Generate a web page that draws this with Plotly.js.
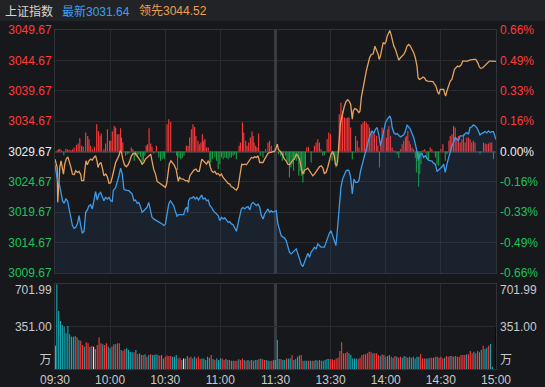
<!DOCTYPE html>
<html><head><meta charset="utf-8">
<script src="https://cdn.plot.ly/plotly-3.0.1.min.js"></script>
<style>html,body{margin:0;padding:0;background:#17181c;overflow:hidden}#chart{width:545px;height:387px}</style>
</head><body><div id="chart"></div>
<script>
// ---------- data ----------
const indexName = '上证指数';
const prevClose = 3029.67;
const timeTickVals = [0, 30, 60, 90, 120, 150, 180, 210, 240];
const timeTickText = ['09:30', '10:00', '10:30', '11:00', '11:30', '13:30', '14:00', '14:30', '15:00'];
const priceTicks = [3009.67, 3014.67, 3019.67, 3024.67, 3029.67, 3034.67, 3039.67, 3044.67, 3049.67];
const pctTicks = ['-0.66%', '-0.49%', '-0.33%', '-0.16%', '0.00%', '0.16%', '0.33%', '0.49%', '0.66%'];
const volMax = 701.99;
const volTickText = ['万', '351.00', '701.99'];

// 上证指数 (blue) : minute index, price
const priceMin = [0,1.4,2.3,3.2,4.1,5,5.9,6.8,7.7,8.6,9.5,10.4,11.3,12.2,13.1,14,14.9,15.8,16.7,17.6,18.5,19.4,20.3,21.2,22.1,23,23.9,24.8,25.7,26.6,27.5,28.5,29.4,30.3,31.2,31.7,33,33.9,34.8,35.7,36.6,37.5,38.4,40.2,42,42.9,43.8,44.7,45.6,46.5,47.4,48.3,49.2,50.1,51,51.9,52.8,53.7,54.7,56.5,57.4,58.3,59.2,60.1,61,61.9,62.8,63.7,64.6,65.5,66.4,67.3,69.1,70,70.9,71.8,72.2,72.7,73.6,74.5,75.4,76.3,77.2,78.1,79,
79.8,80.7,81.6,82.5,83.4,84.3,85.2,86.1,87,87.9,88.8,89.7,90.6,91.5,92.4,93.3,94.2,95.1,96,96.9,97.8,98.7,99.6,100.5,101.4,102.3,103.2,104.2,105.1,106,106.9,107.8,108.7,109.6,110.5,111.4,112.3,113.2,114.1,115,115.9,116.8,117.7,118.6,119.5,120.4,121.3,122.2,123.1,124,124.9,125.8,126.7,127.6,128.5,129.4,130.3,131.3,132.2,133.1,134,134.9,135.8,136.7,137.6,138.5,139.4,140.3,141.2,142.1,143,143.9,144.8,146.6,147.5,148.4,149.3,150.2,151.1,152,152.9,153.8,154.7,155.6,156.5,157.5,158.4,159.3,
160,160.9,161.8,162.7,163.6,164.5,165.4,166.3,167.2,168.1,169,169.9,170.8,171.7,172.6,173.5,174.4,175.3,176.2,177.1,178,179,179.9,180.8,181.7,182.2,182.9,183.5,184.4,185.3,186.2,187.1,188,188.9,189.8,190.7,191.6,192.5,193.4,194.3,195.2,196.1,197,197.9,198.8,199.7,200.6,201.5,202.4,203.3,204.2,205.1,206.1,207,207.9,208.8,209.7,210.6,211.5,212.4,213.3,214.2,215.1,216,216.9,217.8,218.7,219.6,220.5,221.4,222.3,223.2,224.1,225,225.9,226.8,227.7,228.6,229.5,230.4,231.3,232.2,233.2,234.1,235,235.9,236.8,237.7,238.6,240];
const priceVal = [3027.48,3024.86,3024.42,3023.22,3021.57,3021.14,3021.85,3021.57,3020.21,3019.11,3017.47,3017.03,3017.20,3017.75,3019.11,3017.47,3016.21,3016.54,3019.66,3020.04,3020.75,3020.92,3020.21,3021.57,3023.05,3021.68,3022.67,3022.94,3022.12,3021.57,3022.12,3021.85,3022.12,3021.57,3021.46,3023.22,3023.76,3024.58,3025.68,3026.93,3025.95,3023.49,3023.32,3023.22,3022.67,3021.57,3021.68,3021.14,3021.30,3020.59,3019.66,3019.93,3020.21,3020.48,3021.30,3020.04,3018.84,3018.57,3018.40,3018.18,3018.02,3017.75,3017.47,3017.75,3019.39,3021.03,3021.57,3021.14,3020.75,3019.82,3019.00,3019.28,3019.28,3019.28,3020.21,3020.48,3019.66,3021.57,3022.01,3022.01,3022.23,3021.85,3022.12,3021.68,3022.12,
3022.50,3021.85,3022.01,3021.57,3021.68,3020.75,3020.48,3019.93,3019.66,3019.39,3019.11,3018.29,3018.84,3018.57,3018.73,3018.40,3018.02,3018.13,3017.75,3017.64,3017.20,3016.54,3017.75,3019.11,3020.21,3020.48,3020.21,3020.48,3020.59,3020.04,3021.03,3021.30,3021.03,3020.75,3021.03,3020.48,3019.11,3018.57,3019.39,3019.93,3020.21,3019.66,3019.93,3019.66,3019.77,3019.93,3017.75,3016.65,3015.83,3015.56,3015.45,3015.01,3014.19,3013.10,3012.82,3013.10,3013.48,3013.64,3012.82,3011.73,3011.07,3010.74,3011.45,3012.27,3012.93,3012.27,3013.10,3013.48,3013.92,3013.64,3014.46,3014.19,3013.92,3013.92,3014.74,3015.56,3016.21,3016.65,3015.83,3014.74,3014.19,3017.20,3021.03,3023.76,3025.13,3025.95,3026.50,3026.61,
3026.50,3025.40,3022.67,3025.13,3024.58,3024.58,3024.86,3026.50,3027.59,3028.69,3029.78,3030.87,3031.69,3032.51,3033.06,3032.62,3033.33,3033.61,3032.51,3030.60,3031.97,3033.61,3034.43,3034.98,3035.25,3035.52,3034.98,3033.61,3032.79,3032.51,3032.62,3032.41,3032.08,3032.24,3032.41,3033.06,3033.99,3033.72,3033.33,3032.62,3031.97,3030.87,3029.51,3028.41,3029.23,3029.34,3028.69,3028.96,3028.58,3028.25,3028.14,3028.14,3027.70,3027.59,3026.39,3026.61,3026.77,3027.15,3027.59,3026.22,3027.59,3028.69,3029.78,3030.60,3031.15,3031.97,3031.69,3031.53,3032.24,3032.24,3032.24,3032.62,3032.79,3032.51,3033.61,3033.72,3034.05,3033.88,3033.61,3033.06,3032.41,3032.62,3032.79,3032.95,3032.73,3033.06,3032.79,3032.95,3032.95,3031.64];

// 领先指数 (orange)
const leadMin = [0,1.2,1.5,2.1,2.6,3.3,4.1,4.6,5.3,6.1,7,7.7,8.6,9.5,10.4,11.3,12.2,13.1,14,14.5,15.6,16.4,16.9,17.6,18.5,19.4,20.3,21.2,22.1,22.9,23.4,24.1,25,25.7,26.6,27.6,28.5,29.4,30.3,31.2,32.1,33,33.9,34.8,35.5,36.2,36.9,37.8,38.8,39.8,40.7,41.6,42.5,43.8,44.7,45.6,46.5,47.4,48.3,49.2,50.3,51.4,52.1,52.8,53.7,54.7,55.6,56.8,57.9,59.2,60.1,60.8,61.5,62.2,63.1,64,64.9,65.9,66.6,67.1,67.8,68.7,69.8,70.9,72,72.7,73.4,74.5,75.6,76.7,77.6,78.5,79.2,79.9,
80.7,81.6,82.5,83.4,83.9,84.6,85.2,86.1,87,87.9,88.8,89.7,90.6,91.5,92.4,93.3,94.2,95.1,96,96.9,97.8,98.7,99.6,100.2,100.9,101.6,102.3,103.3,104.2,105.1,106,106.9,107.8,108.7,109.6,110.5,111.4,112.3,113.2,114.1,115,115.9,116.8,117.7,118.6,119.5,120.4,121,121.5,122.2,123.1,124,124.9,125.8,126.7,127.6,128.5,129.4,130.3,131.3,132.2,133.1,134,134.9,135.8,136.7,137.6,138.5,139.4,140.3,141.2,142.1,143,143.9,144.8,145.7,146.6,147.5,148.4,149.3,150.2,151.1,152,152.6,153.3,153.8,154.4,154.8,155.3,155.8,156.5,157.5,158.4,159.3,
160,160.9,161.8,162.3,163.1,164.1,165.4,166,166.7,167.6,168.5,169.4,170.3,171.2,172.1,173.2,174.1,175,175.9,176.4,177.1,178,178.6,179.5,180.2,180.8,181.5,182.2,182.9,183.7,184.4,185.3,186.2,187.1,188,188.9,189.8,190.7,191.6,192.5,193.4,194.3,195.2,196.1,197,197.6,198.3,199.2,200.3,201,201.9,202.8,204.2,205.7,206.4,207.3,208.2,208.9,209.7,210.6,211.5,212.2,212.6,213.3,214.2,215.1,216,216.5,217.4,218.2,219.1,220,221,221.9,223.2,224.5,225.6,226.8,228.1,229,230.1,231,231.7,232.8,233.7,234.6,235.5,236.4,237.3,238.6,240];
const leadVal = [3028.41,3027.04,3021.30,3024.31,3027.04,3028.14,3027.04,3025.95,3027.59,3028.41,3028.79,3028.14,3027.15,3025.95,3025.84,3026.50,3026.22,3026.39,3025.84,3024.86,3024.86,3027.04,3028.14,3027.48,3028.14,3028.41,3028.25,3028.69,3028.96,3028.03,3027.04,3027.59,3027.86,3027.04,3025.68,3025.95,3025.51,3024.42,3024.53,3025.51,3026.77,3027.86,3028.41,3028.96,3029.78,3029.51,3028.41,3027.48,3027.15,3027.48,3028.14,3028.96,3029.34,3029.34,3028.96,3028.58,3028.14,3027.59,3027.86,3028.41,3028.79,3029.12,3029.23,3028.14,3026.77,3025.95,3024.75,3024.47,3024.20,3023.87,3023.76,3024.42,3026.22,3027.59,3028.14,3027.76,3027.43,3026.77,3025.68,3024.75,3025.40,3025.18,3025.13,3024.86,3024.86,3024.58,3025.68,3026.22,3026.61,3026.77,3026.39,3026.39,3027.59,3028.41,
3028.14,3027.86,3027.59,3028.14,3027.86,3027.04,3026.50,3026.22,3026.39,3025.95,3026.06,3025.68,3025.95,3025.40,3024.97,3024.75,3024.42,3024.31,3023.87,3023.76,3023.49,3023.32,3023.76,3024.86,3026.50,3027.59,3027.48,3027.59,3027.48,3027.86,3028.41,3028.69,3028.58,3028.79,3028.69,3028.96,3027.86,3027.86,3027.86,3028.41,3028.96,3029.34,3029.51,3029.51,3029.67,3029.67,3030.33,3030.87,3030.05,3029.78,3029.51,3028.96,3028.41,3028.14,3027.59,3027.48,3027.86,3028.25,3028.41,3029.23,3028.96,3028.41,3027.04,3025.95,3026.61,3026.77,3026.93,3026.50,3025.95,3025.68,3025.95,3026.39,3026.77,3027.15,3027.32,3027.04,3026.06,3026.22,3027.04,3028.03,3029.23,3029.67,3028.96,3027.59,3027.32,3028.14,3030.87,3033.06,3034.16,3034.98,3036.07,3037.16,3037.88,3038.20,
3037.98,3037.44,3034.98,3036.34,3036.73,3036.62,3036.07,3036.34,3038.53,3040.17,3041.81,3042.91,3044.00,3045.10,3045.64,3045.75,3047.01,3046.46,3045.64,3044.82,3045.37,3046.74,3047.56,3047.39,3047.83,3048.65,3049.20,3049.58,3048.92,3047.83,3047.01,3046.46,3045.64,3044.71,3045.10,3045.37,3045.64,3046.19,3047.01,3047.28,3047.01,3046.46,3045.92,3045.10,3043.73,3041.81,3041.54,3041.65,3041.92,3041.81,3041.38,3041.27,3041.27,3041.16,3040.83,3040.45,3039.52,3039.08,3039.90,3039.90,3039.90,3039.08,3038.80,3039.63,3040.45,3041.27,3041.54,3042.36,3043.18,3043.45,3043.73,3043.62,3043.89,3044.55,3044.55,3044.55,3044.71,3044.82,3044.82,3044.82,3044.27,3043.56,3043.35,3043.45,3043.73,3044.00,3044.27,3044.55,3044.55,3044.55,3044.52];

// red/green bars around the zero line (in index-point units)
const flowMin = [1.2,1.9,2.6,3.5,4.8,5.9,6.8,7.7,8.6,9.5,10.4,11.7,12.6,13.5,14.5,15.4,16.7,17.8,18.5,19.4,20.3,21.4,22.7,23.6,24.5,25.2,26.6,27.5,28.5,29.7,30.4,31.2,32.2,33,33.9,34.8,35.7,36.2,36.9,38.4,39.3,40.2,41.5,42.4,43.1,43.8,44.7,45.6,46.5,47.4,48.1,48.9,49.6,50.3,51.2,52.1,52.8,53.7,55.2,56.5,57.4,58.3,59.2,59.7,61,61.9,63,66.2,66.7,67.5,68.4,69.3,70.2,71.5,72.4,73.3,74.2,75.1,76,76.7,77.8,78.5,79.4,
80.2,80.9,81.6,82.5,83.4,84.3,84.8,85.7,87,87.9,88.8,89.7,90.6,91.5,92.4,93.3,94.2,95.1,96,96.9,97.8,98.7,100.2,100.9,102,102.7,103.8,104.5,105.4,106.3,107.2,107.8,108.3,109.2,109.9,110.8,111.7,113.2,114.6,115.9,116.8,117.7,121.7,122.8,123.7,124.4,125.5,126.2,126.9,127.6,128.4,129.1,129.8,130.5,131.3,132.2,132.7,133.4,134.1,134.9,135.6,136.3,137,137.9,139.4,141.2,142.1,143,143.9,144.8,145.7,146.6,148.1,149,149.9,150.8,152,152.9,154.7,155.6,156.5,157.5,158.4,159.3,
160,160.9,161.8,163.6,164.5,165.4,166.7,167.6,168.5,169.4,170.3,171.2,172.1,173,173.9,175,175.7,176.6,177.3,178,179,180.4,181.1,181.7,182.6,183.5,184.4,185.3,186.2,187.1,188,188.9,189.8,190.7,191.2,192,192.7,193.4,194.3,195.2,196.1,196.7,197.4,197.9,198.5,199.2,200.3,201.2,202.4,203.3,204.2,205.1,207,207.9,208.8,210,211.1,212.4,213.3,214.4,215.1,216,216.9,217.8,218.7,219.6,220.5,221.4,222.3,223.2,224.1,225,225.9,226.8,227.7,228.6,231.3,233.2,234.1,235,235.9,236.8,237.7,238.6];
const flowVal = [0.22,0.33,0.44,0.22,-0.60,0.44,0.33,0.27,0.22,0.33,0.66,1.09,1.31,2.19,0.93,0.77,3.12,2.57,2.02,0.93,0.38,0.77,4.49,3.39,2.57,2.95,0.38,1.31,3.66,1.75,1.75,3.28,4.21,3.94,2.84,2.84,3.83,2.30,1.48,-0.71,-0.44,-0.33,0.66,0.38,-1.53,-0.71,-0.98,-0.44,-0.88,-2.19,-1.53,-0.71,0.93,1.20,3.83,1.31,0.77,-0.33,0.93,-0.98,-1.53,-1.26,-0.98,-1.26,4.49,5.31,4.87,-0.71,-3.06,-0.98,-1.26,-1.09,-0.71,0.93,0.93,2.30,3.66,4.49,4.05,2.57,1.75,1.20,1.48,
2.84,1.75,2.02,0.66,0.66,-2.35,-1.81,-1.26,-0.98,-1.53,-2.90,-2.08,-0.98,-1.26,-0.98,-1.09,-1.26,-0.98,-0.98,-0.71,-0.55,-1.26,0.93,1.48,4.76,3.12,1.75,0.93,1.48,2.30,3.28,2.57,1.48,0.93,0.66,2.95,-0.71,-0.98,0.38,1.48,1.75,0.93,-0.44,-0.71,-1.53,-0.98,-0.71,-1.53,-1.81,-4.27,-2.63,-2.08,-3.17,-0.98,-1.53,-1.26,-3.99,-3.17,-3.99,-5.09,-3.72,-2.63,0.66,0.77,-1.81,0.93,1.48,2.02,1.48,0.38,-0.71,-0.60,2.02,3.12,2.84,-1.53,-1.26,-2.63,6.13,8.04,6.67,5.58,5.47,5.58,
5.58,3.94,-1.26,2.57,1.75,0.66,4.49,4.76,5.03,4.76,4.49,3.94,3.39,2.95,2.84,2.57,0.93,-2.63,0.93,3.94,3.39,2.30,3.66,4.21,2.57,0.66,0.22,-0.16,-0.44,-1.09,0.38,1.20,1.75,2.30,2.57,3.39,1.75,1.20,0.66,0.38,-1.09,-3.45,-1.53,-5.80,-3.72,-2.08,0.22,0.38,-1.26,-1.53,0.66,0.38,-0.98,-2.19,-2.35,0.38,1.20,-1.53,-0.44,1.75,2.57,2.84,4.21,3.94,2.30,2.57,1.48,2.02,2.84,1.48,2.30,2.30,2.02,1.48,1.75,1.48,-0.44,1.48,1.31,1.20,1.31,1.48,1.48,-1.26];

// per-minute volume (万) and direction (r = up, c = down, w = flat)
const volume = [193,702,481,398,365,351,296,356,288,268,268,274,263,240,235,199,185,221,213,185,191,185,166,199,262,213,205,199,213,185,171,185,205,205,213,213,157,149,166,171,157,144,138,138,157,122,130,116,116,122,102,116,122,116,116,122,116,110,
116,88,102,111,108,108,102,102,116,88,94,75,88,88,108,94,102,88,102,88,102,83,88,88,75,102,94,116,83,75,88,75,88,88,75,83,75,75,69,69,69,69,80,75,88,75,69,75,69,75,69,75,75,83,88,80,75,75,69,66,69,75,75,
240,83,83,75,75,88,88,88,116,75,83,102,111,116,69,69,69,69,69,69,69,75,69,75,69,69,75,83,83,80,80,75,88,94,149,221,130,130,144,130,116,88,88,88,83,94,116,122,122,130,144,138,130,130,130,
116,108,122,116,102,108,116,102,94,108,102,94,
102,94,108,102,94,102,94,102,88,102,102,124,88,88,88,88,94,94,94,102,102,94,102,88,94,108,102,108,108,102,108,102,102,116,116,116,122,122,149,130,144,130,149,138,157,193,166,177,193,207,
19,0,351];
const volDir = ('wcccccccccccrcrrcrrcrwcrrrcrrccrcrrrcrrccccrcrccrcrcrcccr' +
  'rccrrrrcccrrcwrcrrccrrrcccccrcrcccrrcrrccrrcrrcrcrcrccrcrrccrrc' +
  'cccrccrccrccccrrccrcrccrcrccccrrrrrrrrrrcccccrrrrrrrrcr' +
  'rrcrcrccrcrc' +
  'rrccrccrccccrrrccrrcrcrrrcrrcrcrrrrrrcrrrcrrccrccr' +
  'ccc').split('');

// ---------- styling helpers ----------
const RED = '#ff3b3b', GREEN = '#1ec35c', WHITE = '#eeeeee';
const tickCol = v => v > prevClose + 1e-9 ? RED : (v < prevClose - 1e-9 ? GREEN : WHITE);
const leftText = priceTicks.map(v => `<span style="color:${tickCol(v)}">${v.toFixed(2)}</span>`);
const rightText = pctTicks.map((t, i) => `<span style="color:${tickCol(priceTicks[i])}">${t}</span>`);
const volColorMap = {r: '#ff3838', c: '#16a9b4', w: '#f0f0f0'};
const prange = [priceTicks[0], priceTicks[priceTicks.length - 1]];
const minuteIdx = volume.map((_, i) => i);

const traces = [
  {type: 'scatter', mode: 'lines', x: priceMin, y: priceVal, xaxis: 'x', yaxis: 'y',
   line: {width: 0, color: 'rgba(0,0,0,0)'}, fill: 'tozeroy', fillcolor: 'rgba(45,85,140,0.16)', hoverinfo: 'skip'},
  {type: 'bar', x: flowMin, y: flowVal, base: prevClose, width: 0.6, xaxis: 'x', yaxis: 'y',
   marker: {color: flowVal.map(v => v >= 0 ? '#ff3a3a' : '#17a043'), line: {width: 0}}},
  {type: 'scatter', mode: 'lines', x: leadMin, y: leadVal, xaxis: 'x', yaxis: 'y',
   line: {color: '#e6a25c', width: 1.3}},
  {type: 'scatter', mode: 'lines', x: priceMin, y: priceVal, xaxis: 'x', yaxis: 'y',
   line: {color: '#3d9be9', width: 1.3}},
  {type: 'bar', x: minuteIdx, y: volume, width: 0.6, xaxis: 'x2', yaxis: 'y4',
   marker: {color: volDir.map(d => volColorMap[d]), line: {width: 0}}},
  {type: 'scatter', x: [], y: [], xaxis: 'x3', yaxis: 'y3', showlegend: false},
  {type: 'scatter', x: [], y: [], xaxis: 'x4', yaxis: 'y5', showlegend: false},
  {type: 'scatter', x: [], y: [], xaxis: 'x', yaxis: 'y2', showlegend: false},
  {type: 'scatter', x: [], y: [], xaxis: 'x4', yaxis: 'y6', showlegend: false}
];

const GRID = '#2a2b30', FRAME = '#323338', LBL = '#c9c9c9';
const FONT = 'Liberation Sans, Noto Sans CJK SC, sans-serif';
const H = 339; // plot height in px
const py = yPix => (369 - yPix) / H;
const px = xPix => (xPix - 55) / 441;

const layout = {
  width: 545, height: 387,
  margin: {l: 55, r: 49, t: 30, b: 18},
  paper_bgcolor: '#17181c', plot_bgcolor: '#17181c',
  showlegend: false, barmode: 'overlay',
  font: {family: FONT, size: 12, color: LBL},
  xaxis: {domain: [0, 1], anchor: 'y', range: [0, 240], tickvals: [30, 60, 90, 150, 180, 210],
          showticklabels: false, showgrid: true, gridcolor: GRID, zeroline: false,
          showline: true, mirror: true, linecolor: FRAME, ticks: ''},
  xaxis2: {domain: [0, 1], anchor: 'y4', range: [0, 240], tickvals: timeTickVals, ticktext: timeTickText,
           showgrid: true, gridcolor: GRID, zeroline: false, showline: true, mirror: true, linecolor: FRAME,
           ticks: '', tickfont: {size: 12, color: LBL}},
  xaxis3: {overlaying: 'x', anchor: 'y3', range: [0, 240], tickvals: [120], showgrid: true, gridcolor: '#3a3b40',
           gridwidth: 3, showticklabels: false, zeroline: false, ticks: '', showline: false},
  xaxis4: {overlaying: 'x2', anchor: 'y4', range: [0, 240], tickvals: [120], showgrid: true, gridcolor: '#3a3b40',
           gridwidth: 3, showticklabels: false, zeroline: false, ticks: '', showline: false},
  yaxis: {domain: [py(273), 1], anchor: 'x', range: prange, tickvals: priceTicks, ticktext: leftText,
          showgrid: true, gridcolor: GRID, zeroline: false, showline: true, mirror: true, linecolor: FRAME,
          ticks: '', tickfont: {size: 12}},
  yaxis2: {overlaying: 'y', side: 'right', anchor: 'x', range: prange, tickvals: priceTicks, ticktext: rightText,
           showgrid: false, zeroline: false, ticks: '', tickfont: {size: 12}, ticklabelstandoff: 3},
  yaxis3: {overlaying: 'y', anchor: 'x3', range: prange, tickvals: [prevClose], showgrid: true,
           gridcolor: '#3b3c41', gridwidth: 2, showticklabels: false, zeroline: false, ticks: ''},
  yaxis4: {domain: [0, py(284.3)], anchor: 'x2', range: [0, volMax], tickvals: [75, 351, 655], ticktext: volTickText,
           showgrid: false, zeroline: false, showline: true, mirror: true, linecolor: FRAME, ticks: '',
           tickfont: {size: 12, color: LBL}},
  yaxis5: {overlaying: 'y4', side: 'right', anchor: 'x4', range: [0, volMax], tickvals: [75, 351, 655], ticktext: volTickText,
           showgrid: false, zeroline: false, ticks: '', tickfont: {size: 12, color: LBL}, ticklabelstandoff: 3},
  yaxis6: {overlaying: 'y4', anchor: 'x4', range: [0, volMax], tickvals: [351], showgrid: true, gridcolor: GRID,
           showticklabels: false, zeroline: false, ticks: ''},
  shapes: [
    {type: 'rect', xref: 'paper', yref: 'paper', x0: px(0), x1: px(545), y0: py(21), y1: py(0),
     fillcolor: '#222327', line: {width: 0}, layer: 'below'}
  ],
  annotations: [
    {xref: 'paper', yref: 'paper', x: px(3), y: py(11.5), xanchor: 'left', yanchor: 'middle', showarrow: false,
     text: indexName, font: {size: 12, color: '#ddd6c6', family: FONT}},
    {xref: 'paper', yref: 'paper', x: px(60), y: py(11.5), xanchor: 'left', yanchor: 'middle', showarrow: false,
     text: '最新' + priceVal[priceVal.length - 1].toFixed(2), font: {size: 12, color: '#3aa0f0', family: FONT}},
    {xref: 'paper', yref: 'paper', x: px(137), y: py(11.5), xanchor: 'left', yanchor: 'middle', showarrow: false,
     text: '领先' + leadVal[leadVal.length - 1].toFixed(2), font: {size: 12, color: '#e8a050', family: FONT}}
  ]
};

Plotly.newPlot('chart', traces, layout, {displayModeBar: false, staticPlot: true});
</script>
</body></html>
